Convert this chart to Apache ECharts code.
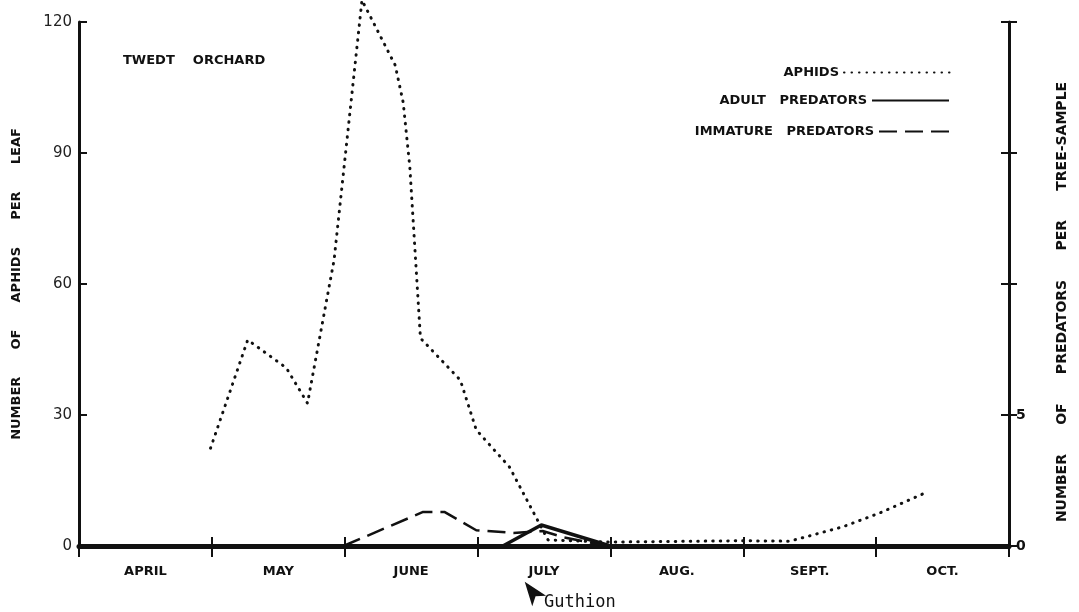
<!DOCTYPE html>
<html><head><meta charset="utf-8">
<script src="https://cdn.jsdelivr.net/npm/echarts@6/dist/echarts.min.js"></script>
<style>html,body{margin:0;padding:0;background:#fff}#c{width:1079px;height:612px}</style>
</head><body><div id="c"></div>
<script>
// ---- data (x = months since 1 April; 0=April start ... 7=end of October) ----
const months = ['APRIL','MAY','JUNE','JULY','AUG.','SEPT.','OCT.'];
const leftTicks = [0,30,60,90,120];
const rightLabeled = [0,5];
const aphidsX = [0.99,1.27,1.56,1.72,1.92,2.13,2.38,2.44,2.49,2.57,2.87,2.99,3.24,3.45,3.53,4.00,4.98,5.35,5.75,6.03,6.35];
const aphidsY = [22.4,47.2,40.8,32.7,65.5,125,110.1,101.6,86.8,47.6,38.0,26.6,18.1,6.0,1.4,0.9,1.2,1.1,4.4,7.6,11.9];
const adultX = [3.19,3.48,4.00];
const adultY = [0,0.8,0];
const immX = [1.99,2.59,2.75,2.99,3.27,3.49,3.64,3.98];
const immY = [0,1.3,1.3,0.6,0.5,0.57,0.34,0];
const guthionX = [3.355];
const guthionY = [-8.2];
const guthionText = 'Guthion';
const names = ['APHIDS','ADULT   PREDATORS','IMMATURE   PREDATORS'];
const titleText = 'TWEDT    ORCHARD';
const leftName = 'NUMBER      OF      APHIDS      PER      LEAF';
const rightName = 'NUMBER      OF      PREDATORS      PER      TREE-SAMPLE';

const zip = (xs, ys) => xs.map((x,i)=>[x,ys[i]]);
const ink = '#111';
const bold = (size) => ({color:ink, fontFamily:'DejaVu Sans', fontWeight:'bold', fontSize:size});
const noDot = {color:'rgba(0,0,0,0)', borderWidth:0, opacity:0};

const chart = echarts.init(document.getElementById('c'), null, {renderer:'canvas'});
chart.setOption({
  backgroundColor:'#fff',
  animation:false,
  title:{text:titleText, left:118, top:49, textStyle:bold(13)},
  legend:[
    {data:[names[0]], right:117, top:61, align:'right', itemWidth:112, itemHeight:10, itemStyle:noDot, textStyle:bold(13)},
    {data:[names[1]], right:124, top:89, align:'right', itemWidth:77, itemHeight:10, itemStyle:noDot, textStyle:bold(13)},
    {data:[names[2]], right:124, top:120, align:'right', itemWidth:70, itemHeight:10, itemStyle:noDot, textStyle:bold(13)}
  ],
  grid:{left:79, right:70, top:22, bottom:66, containLabel:false},
  xAxis:[
    {type:'value', min:0, max:7, interval:1, position:'bottom',
     axisLine:{show:true, onZero:false, lineStyle:{color:ink, width:5}},
     axisTick:{show:true, inside:false, length:11, lineStyle:{color:ink, width:2}},
     axisLabel:{show:false}, splitLine:{show:false}},
    {type:'category', data:months, boundaryGap:true, position:'bottom',
     axisLine:{show:false, onZero:false}, axisTick:{show:false},
     axisLabel:Object.assign({margin:19}, bold(13)), splitLine:{show:false}},
    {type:'value', min:0, max:7, interval:1, position:'bottom',
     axisLine:{show:false, onZero:false},
     axisTick:{show:true, inside:true, length:9, lineStyle:{color:ink, width:2}},
     axisLabel:{show:false}, splitLine:{show:false}}
  ],
  yAxis:[
    {type:'value', min:0, max:120, interval:30, position:'left',
     name:leftName, nameLocation:'middle', nameRotate:90, nameGap:56,
     nameTextStyle:bold(13),
     axisLine:{show:true, onZero:false, lineStyle:{color:ink, width:3}},
     axisTick:{show:true, inside:true, length:8, lineStyle:{color:ink, width:2}},
     axisLabel:{color:'#222', fontFamily:'DejaVu Sans', fontSize:15, margin:7,
       formatter:v=>leftTicks.includes(v)?String(v):''},
     splitLine:{show:false}},
    {type:'value', min:0, max:20, interval:5, position:'right',
     name:rightName, nameLocation:'middle', nameRotate:90, nameGap:46,
     nameTextStyle:Object.assign(bold(14), {padding:[0,36,0,0]}),
     axisLine:{show:true, onZero:false, lineStyle:{color:ink, width:3}},
     axisTick:{show:true, inside:false, length:8, lineStyle:{color:ink, width:2}},
     axisLabel:Object.assign({margin:7, formatter:v=>rightLabeled.includes(v)?String(v):''}, bold(14)),
     splitLine:{show:false}},
    {type:'value', min:0, max:20, interval:5, position:'right',
     axisLine:{show:false, onZero:false}, axisTick:{show:true, inside:true, length:8, lineStyle:{color:ink, width:2}},
     axisLabel:{show:false}, splitLine:{show:false}}
  ],
  series:[
    {name:names[0], type:'line', xAxisIndex:0, yAxisIndex:0, data:zip(aphidsX, aphidsY),
     symbol:'none', clip:false, color:ink,
     lineStyle:{color:ink, width:3, type:[0.5,7], cap:'round'}},
    {name:names[1], type:'line', xAxisIndex:0, yAxisIndex:1, data:zip(adultX, adultY),
     symbol:'none', clip:false, color:ink,
     lineStyle:{color:ink, width:3.5, type:'solid'}},
    {name:names[2], type:'line', xAxisIndex:0, yAxisIndex:1, data:zip(immX, immY),
     symbol:'none', clip:false, color:ink,
     lineStyle:{color:ink, width:2.5, type:[18,8]}},
    {name:'guthion', type:'scatter', xAxisIndex:0, yAxisIndex:0, data:zip(guthionX, guthionY),
     clip:false, symbol:'arrow', symbolSize:[13,24], symbolRotate:37,
     itemStyle:{color:ink, opacity:1},
     label:{show:true, position:'right', distance:-2, offset:[0,11], formatter:guthionText,
       color:ink, fontFamily:'DejaVu Sans Mono', fontSize:17}}
  ]
});
</script></body></html>
